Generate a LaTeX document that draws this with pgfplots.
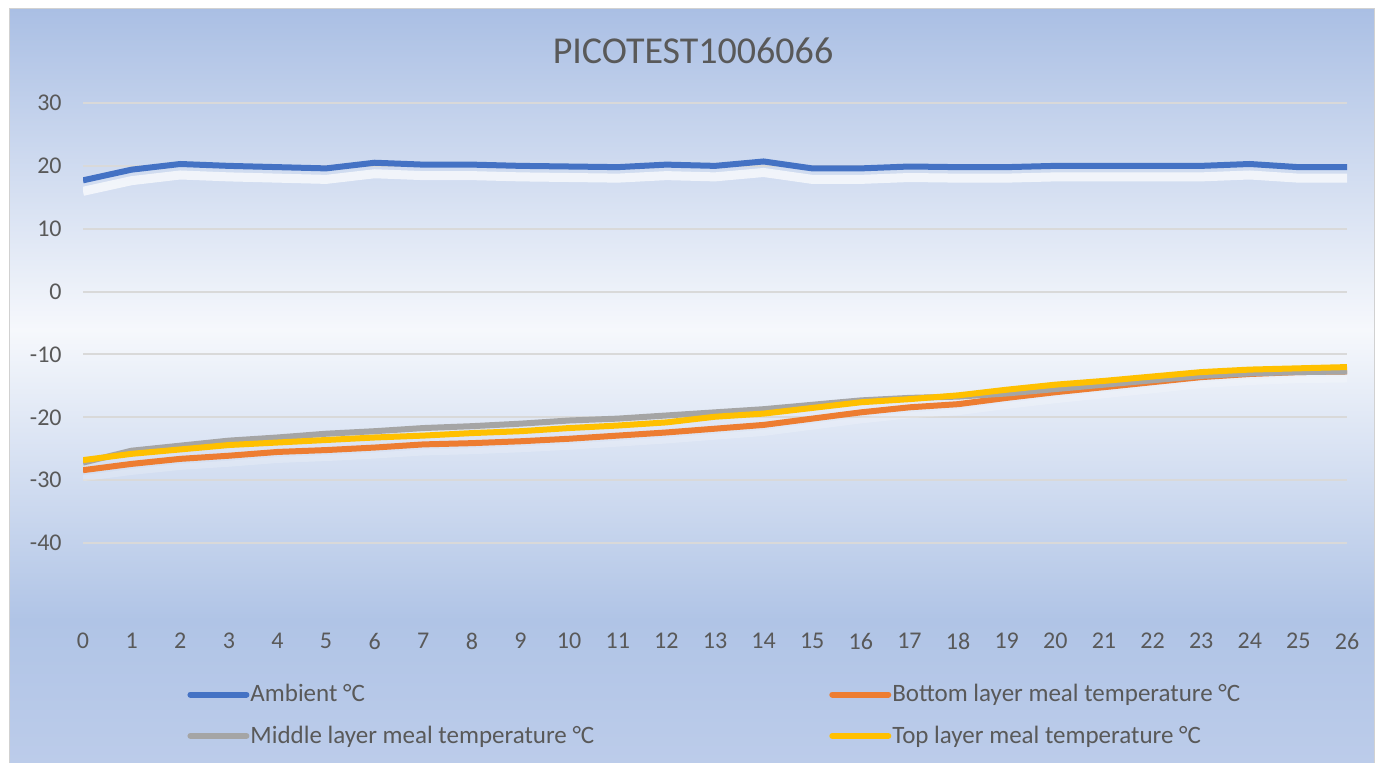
\documentclass[border=0pt]{standalone}
\usepackage{pgfplots}
\usepackage{pgfplotstable}
\pgfplotsset{compat=1.18}
\usepackage{fontspec}
\setmainfont{Carlito}
\definecolor{txt}{HTML}{595959}
\definecolor{amb}{HTML}{4472C4}
\definecolor{bot}{HTML}{ED7D31}
\definecolor{mid}{HTML}{A5A5A5}
\definecolor{topc}{HTML}{FFC000}
\definecolor{bgtop}{HTML}{AABFE4}
\definecolor{bgmid}{HTML}{F6F8FC}
\definecolor{bgbot}{HTML}{B0C4E6}
\definecolor{bglow}{HTML}{BCCCEA}
\definecolor{gridc}{HTML}{D9D9D9}
\pgfplotstableread{
x amb bot mid tp
0 17.7 -28.4 -27.2 -26.8
1 19.4 -27.4 -25.3 -25.8
2 20.3 -26.6 -24.5 -25.1
3 20.0 -26.1 -23.7 -24.4
4 19.8 -25.5 -23.2 -24.0
5 19.6 -25.2 -22.6 -23.6
6 20.5 -24.8 -22.2 -23.2
7 20.2 -24.3 -21.7 -22.9
8 20.2 -24.1 -21.4 -22.5
9 20.0 -23.8 -21.0 -22.2
10 19.9 -23.4 -20.5 -21.7
11 19.8 -22.9 -20.2 -21.3
12 20.2 -22.4 -19.7 -20.8
13 20.0 -21.8 -19.2 -19.9
14 20.7 -21.2 -18.7 -19.4
15 19.6 -20.2 -18.0 -18.5
16 19.6 -19.2 -17.3 -17.6
17 19.9 -18.4 -16.9 -17.1
18 19.8 -17.9 -16.7 -16.5
19 19.8 -16.9 -16.2 -15.6
20 20.0 -16.0 -15.5 -14.8
21 20.0 -15.2 -14.8 -14.2
22 20.0 -14.4 -14.1 -13.5
23 20.0 -13.6 -13.4 -12.8
24 20.3 -13.1 -13.0 -12.4
25 19.8 -12.8 -12.8 -12.2
26 19.8 -12.7 -12.7 -12.0
}\data
\begin{document}
\begin{tikzpicture}
\useasboundingbox (0pt,0pt) rectangle (690pt,381.5pt);
\fill[white] (0pt,0pt) rectangle (690pt,381.5pt);
\shade[top color=bgtop, bottom color=bgmid] (4.5pt,216.5pt) rectangle (687pt,377pt);
\shade[top color=bgmid, bottom color=bgbot] (4.5pt,71.5pt) rectangle (687pt,216.75pt);
\shade[top color=bgbot, bottom color=bglow] (4.5pt,0pt) rectangle (687pt,71.75pt);
\draw[black!18, line width=0.5pt] (4.5pt,0pt) -- (4.5pt,377pt) -- (687pt,377pt) -- (687pt,0pt);
\node[text=txt, font=\fontsize{19}{22}\selectfont, inner sep=0pt] at (346.5pt,356pt) {PICOTEST1006066};
\begin{axis}[
  at={(41.5pt,78.5pt)}, anchor=south west,
  width=632pt, height=251.5pt, scale only axis,
  xmin=0, xmax=26, ymin=-50, ymax=30,
  xtick={0,1,...,26}, ytick={-40,-30,...,30},
  axis line style={draw=none}, major tick style={draw=none},
  ymajorgrids, grid style={gridc, line width=1pt},
  /pgf/number format/assume math mode=true,
  ticklabel style={font=\fontsize{12}{14}\selectfont, text=txt},
  xticklabel style={anchor=center, inner sep=0pt, yshift=-17.5pt},
  yticklabel style={anchor=east, inner sep=0pt, xshift=-10.5pt},
  legend columns=2,
  legend cell align=left,
  legend image code/.code={\draw[#1, line width=3pt, line cap=round] (0pt,0pt) -- (28pt,0pt);},
  legend style={at={(0.0823,-0.151)}, anchor=north west, draw=none, fill=none,
    inner sep=0pt, font=\fontsize{12.5}{14}\selectfont, text=txt,
    nodes={inner xsep=0.5pt, inner ysep=1pt}, row sep=8.5pt,
    /tikz/column 2/.style={column sep=117pt}},
]
\addplot[white, opacity=0.7, line width=4.5pt, forget plot, transform canvas={yshift=-5.5pt}] table[x=x,y=amb]{\data};
\addplot[white, opacity=0.2, line width=3pt, forget plot, transform canvas={yshift=-4pt}] table[x=x,y=bot]{\data};
\addplot[amb, line width=3pt, line join=round] table[x=x,y=amb]{\data};
\addlegendentry{Ambient °C}
\addplot[bot, line width=3pt, line join=round] table[x=x,y=bot]{\data};
\addlegendentry{Bottom layer meal temperature °C}
\addplot[mid, line width=3pt, line join=round] table[x=x,y=mid]{\data};
\addlegendentry{Middle layer meal temperature °C}
\addplot[topc, line width=3pt, line join=round] table[x=x,y=tp]{\data};
\addlegendentry{Top layer meal temperature °C}
\end{axis}
\end{tikzpicture}
\end{document}
